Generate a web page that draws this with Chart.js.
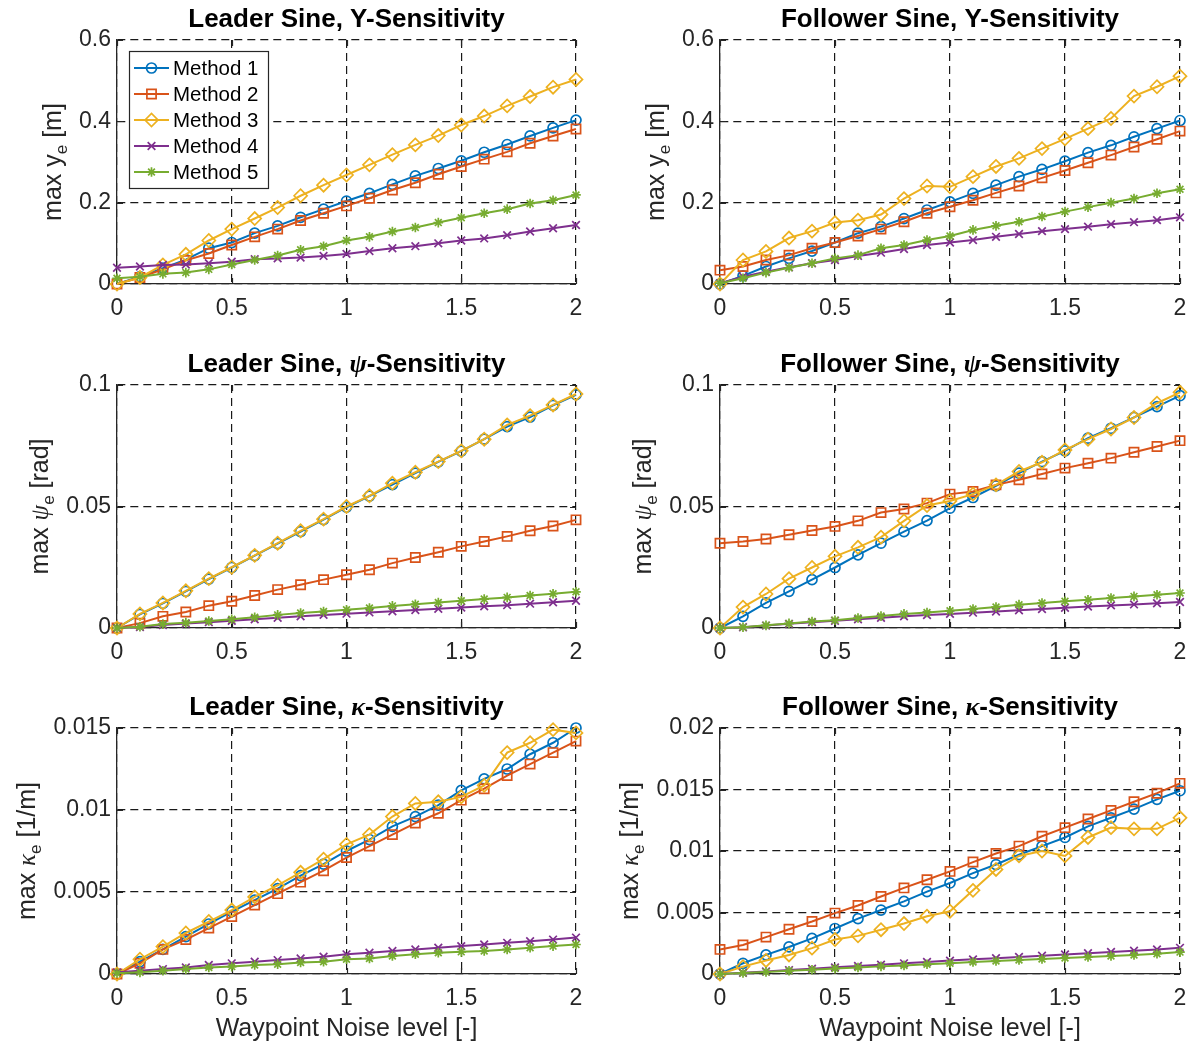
<!DOCTYPE html>
<html>
<head>
<meta charset="utf-8">
<script src="https://cdn.jsdelivr.net/npm/chart.js@4.4.1/dist/chart.umd.min.js"></script>
<style>
  html, body { margin: 0; padding: 0; background: #ffffff; }
  body { width: 1190px; height: 1043px; position: relative; overflow: hidden; }
  canvas { position: absolute; }
</style>
</head>
<body>
<canvas id="leaderY" width="600" height="340" style="left:0px;top:0px"></canvas>
<canvas id="followerY" width="600" height="340" style="left:600px;top:0px"></canvas>
<canvas id="leaderPsi" width="600" height="345" style="left:0px;top:340px"></canvas>
<canvas id="followerPsi" width="600" height="345" style="left:600px;top:340px"></canvas>
<canvas id="leaderKappa" width="600" height="358" style="left:0px;top:685px"></canvas>
<canvas id="followerKappa" width="600" height="358" style="left:600px;top:685px"></canvas>
<script>
// ---- data -------------------------------------------------------------
const noiseLevels = [0, 0.1, 0.2, 0.3, 0.4, 0.5, 0.6, 0.7, 0.8, 0.9, 1.0, 1.1, 1.2, 1.3, 1.4, 1.5, 1.6, 1.7, 1.8, 1.9, 2.0];
const methodNames = ['Method 1', 'Method 2', 'Method 3', 'Method 4', 'Method 5'];

const xTickValues = [0, 0.5, 1, 1.5, 2];
const xTickLabels = ['0', '0.5', '1', '1.5', '2'];
const yTickValuesY = [0, 0.2, 0.4, 0.6];
const yTickLabelsY = ['0', '0.2', '0.4', '0.6'];
const yTickValuesPsi = [0, 0.05, 0.1];
const yTickLabelsPsi = ['0', '0.05', '0.1'];
const yTickValuesKappaLeader = [0, 0.005, 0.01, 0.015];
const yTickLabelsKappaLeader = ['0', '0.005', '0.01', '0.015'];
const yTickValuesKappaFollower = [0, 0.005, 0.01, 0.015, 0.02];
const yTickLabelsKappaFollower = ['0', '0.005', '0.01', '0.015', '0.02'];

// max lateral error y_e [m]
const leaderY1 = [0, 0.018, 0.039, 0.060, 0.088, 0.102, 0.125, 0.143, 0.164, 0.184, 0.204, 0.223, 0.245, 0.266, 0.284, 0.303, 0.324, 0.343, 0.364, 0.384, 0.403];
const leaderY2 = [0, 0.016, 0.036, 0.058, 0.075, 0.096, 0.116, 0.135, 0.156, 0.174, 0.192, 0.211, 0.231, 0.249, 0.270, 0.289, 0.307, 0.325, 0.346, 0.364, 0.381];
const leaderY3 = [0, 0.016, 0.047, 0.073, 0.107, 0.135, 0.161, 0.188, 0.217, 0.243, 0.268, 0.293, 0.318, 0.342, 0.365, 0.391, 0.413, 0.438, 0.461, 0.484, 0.503];
const leaderY4 = [0.040, 0.043, 0.047, 0.048, 0.051, 0.055, 0.061, 0.063, 0.065, 0.069, 0.074, 0.081, 0.088, 0.093, 0.100, 0.107, 0.112, 0.120, 0.129, 0.137, 0.145];
const leaderY5 = [0.014, 0.018, 0.025, 0.028, 0.036, 0.048, 0.059, 0.070, 0.084, 0.093, 0.107, 0.116, 0.129, 0.139, 0.151, 0.163, 0.174, 0.184, 0.198, 0.206, 0.219];

const followerY1 = [0, 0.020, 0.043, 0.063, 0.081, 0.102, 0.125, 0.141, 0.161, 0.182, 0.202, 0.223, 0.243, 0.264, 0.282, 0.302, 0.323, 0.341, 0.362, 0.382, 0.402];
const followerY2 = [0.034, 0.043, 0.059, 0.071, 0.088, 0.102, 0.118, 0.135, 0.153, 0.174, 0.190, 0.206, 0.224, 0.241, 0.261, 0.279, 0.298, 0.317, 0.337, 0.356, 0.376];
const followerY3 = [0, 0.059, 0.080, 0.113, 0.130, 0.151, 0.157, 0.171, 0.210, 0.241, 0.239, 0.264, 0.289, 0.309, 0.333, 0.357, 0.382, 0.407, 0.462, 0.485, 0.511];
const followerY4 = [0.002, 0.018, 0.030, 0.041, 0.051, 0.059, 0.069, 0.077, 0.086, 0.096, 0.102, 0.108, 0.116, 0.123, 0.130, 0.135, 0.141, 0.147, 0.152, 0.157, 0.164];
const followerY5 = [0.002, 0.014, 0.028, 0.040, 0.051, 0.063, 0.071, 0.088, 0.096, 0.108, 0.118, 0.133, 0.143, 0.153, 0.166, 0.178, 0.189, 0.200, 0.210, 0.223, 0.233];

// max heading error psi_e [rad]
const leaderPsi1 = [0, 0.0056, 0.0101, 0.0151, 0.0201, 0.0249, 0.0298, 0.0347, 0.0397, 0.0446, 0.0497, 0.0543, 0.0590, 0.0637, 0.0684, 0.0728, 0.0777, 0.0829, 0.0868, 0.0916, 0.0960];
const leaderPsi2 = [0, 0.0020, 0.0048, 0.0066, 0.0092, 0.0110, 0.0134, 0.0158, 0.0178, 0.0199, 0.0219, 0.0240, 0.0267, 0.0290, 0.0312, 0.0336, 0.0356, 0.0377, 0.0400, 0.0420, 0.0445];
const leaderPsi3 = [0, 0.0058, 0.0103, 0.0153, 0.0203, 0.0250, 0.0299, 0.0349, 0.0400, 0.0448, 0.0500, 0.0544, 0.0596, 0.0641, 0.0685, 0.0729, 0.0777, 0.0836, 0.0874, 0.0918, 0.0963];
const leaderPsi4 = [0, 0.0004, 0.0012, 0.0018, 0.0024, 0.0030, 0.0036, 0.0042, 0.0048, 0.0054, 0.0059, 0.0064, 0.0069, 0.0074, 0.0079, 0.0084, 0.0089, 0.0094, 0.0100, 0.0106, 0.0112];
const leaderPsi5 = [0, 0.0005, 0.0016, 0.0022, 0.0029, 0.0036, 0.0044, 0.0054, 0.0062, 0.0068, 0.0075, 0.0082, 0.0091, 0.0098, 0.0105, 0.0112, 0.0119, 0.0126, 0.0134, 0.0141, 0.0149];

const followerPsi1 = [0, 0.0048, 0.0103, 0.0151, 0.0199, 0.0249, 0.0301, 0.0349, 0.0397, 0.0442, 0.0493, 0.0537, 0.0585, 0.0637, 0.0685, 0.0729, 0.0781, 0.0822, 0.0867, 0.0911, 0.0956];
const followerPsi2 = [0.0349, 0.0356, 0.0366, 0.0384, 0.0401, 0.0418, 0.0441, 0.0475, 0.0490, 0.0514, 0.0551, 0.0562, 0.0589, 0.0610, 0.0634, 0.0658, 0.0678, 0.0699, 0.0723, 0.0747, 0.0771];
const followerPsi3 = [0, 0.0086, 0.0140, 0.0203, 0.0249, 0.0295, 0.0332, 0.0374, 0.0441, 0.0504, 0.0523, 0.0551, 0.0589, 0.0644, 0.0682, 0.0733, 0.0777, 0.0819, 0.0866, 0.0925, 0.0970];
const followerPsi4 = [0, 0.0003, 0.0010, 0.0017, 0.0024, 0.0030, 0.0036, 0.0042, 0.0048, 0.0053, 0.0058, 0.0063, 0.0068, 0.0073, 0.0078, 0.0083, 0.0088, 0.0093, 0.0097, 0.0102, 0.0107];
const followerPsi5 = [0, 0.0003, 0.0011, 0.0019, 0.0027, 0.0032, 0.0041, 0.0049, 0.0058, 0.0064, 0.0071, 0.0078, 0.0086, 0.0096, 0.0103, 0.0110, 0.0116, 0.0123, 0.0130, 0.0137, 0.0144];

// max curvature error kappa_e [1/m]
const leaderKappa1 = [0, 0.00075, 0.0015, 0.00228, 0.00305, 0.0038, 0.0045, 0.0052, 0.0060, 0.0067, 0.0075, 0.0082, 0.0090, 0.0096, 0.0103, 0.0112, 0.0119, 0.0125, 0.0134, 0.0141, 0.0150];
const leaderKappa2 = [0, 0.00065, 0.0015, 0.0021, 0.0028, 0.0035, 0.0042, 0.0049, 0.0056, 0.0063, 0.0071, 0.0078, 0.0085, 0.0092, 0.0098, 0.0106, 0.0113, 0.0121, 0.0128, 0.0135, 0.0142];
const leaderKappa3 = [0, 0.0009, 0.00167, 0.0025, 0.0032, 0.0039, 0.0047, 0.0054, 0.0062, 0.0070, 0.0079, 0.0085, 0.0096, 0.0104, 0.0105, 0.0108, 0.0115, 0.0135, 0.0141, 0.0149, 0.0147];
const leaderKappa4 = [0.0001, 0.0002, 0.0003, 0.0004, 0.00055, 0.00065, 0.00075, 0.00085, 0.00095, 0.00105, 0.0012, 0.0013, 0.0014, 0.0015, 0.0016, 0.0017, 0.0018, 0.0019, 0.0020, 0.0021, 0.00222];
const leaderKappa5 = [0.00005, 0.0001, 0.0002, 0.0003, 0.0004, 0.00045, 0.00055, 0.0006, 0.0007, 0.00075, 0.0009, 0.00095, 0.0011, 0.0012, 0.0013, 0.00135, 0.0014, 0.0015, 0.0016, 0.0017, 0.0018];

const followerKappa1 = [0, 0.00087, 0.00155, 0.0022, 0.0029, 0.0037, 0.0045, 0.0052, 0.0059, 0.0067, 0.0074, 0.0082, 0.0089, 0.0097, 0.0104, 0.0111, 0.0120, 0.0127, 0.0134, 0.0142, 0.0149];
const followerKappa2 = [0.0020, 0.00236, 0.0030, 0.00364, 0.00427, 0.00495, 0.00557, 0.0063, 0.0070, 0.00766, 0.00834, 0.0091, 0.0098, 0.0104, 0.0112, 0.0119, 0.0126, 0.0133, 0.0140, 0.0147, 0.0155];
const followerKappa3 = [0, 0.0006, 0.0011, 0.00155, 0.0021, 0.0028, 0.0031, 0.0036, 0.0041, 0.0047, 0.0051, 0.0068, 0.0085, 0.0096, 0.0100, 0.0096, 0.0111, 0.0119, 0.0118, 0.0118, 0.0127];
const followerKappa4 = [0, 0.0001, 0.0002, 0.00032, 0.00043, 0.00054, 0.00065, 0.00076, 0.00087, 0.00098, 0.00109, 0.00119, 0.00129, 0.00139, 0.00149, 0.00159, 0.00169, 0.00179, 0.00189, 0.0020, 0.00213];
const followerKappa5 = [0, 0.00008, 0.00017, 0.00026, 0.00035, 0.00044, 0.00053, 0.00062, 0.0007, 0.00079, 0.00088, 0.00097, 0.00106, 0.00114, 0.00122, 0.0013, 0.00138, 0.00146, 0.00155, 0.00165, 0.00178];

// ---- styling ----------------------------------------------------------
const methodColors = ['#0072BD', '#D95319', '#EDB120', '#7E2F8E', '#77AC30'];
const markerStyles = ['circle', 'rect', 'rectRot', 'crossRot', 'star'];
const markerRadii = [5, 6.5, 6.5, 5.4, 4.8];

const SANS = '"Liberation Sans", Arial, Helvetica, sans-serif';
const SERIF = '"Liberation Serif", "DejaVu Serif", serif';
const INK = '#262626';
const TICK_FONT_SIZE = 23;
const TICK_LEN = 6;
const LINE_W = 2;
const MARKER_W = 1.7;

const sans = (text, weight, size) => ({ text, font: `${weight || 'normal'} ${size || 25}px ${SANS}` });
const greek = (text, bold, size) => ({ text, font: `${bold ? 'bold ' : ''}italic ${size || 25}px ${SERIF}` });
const sub = (text) => ({ text, font: `17px ${SANS}`, dy: 6 });

function drawRich(ctx, segs, x, y, angle, color) {
  ctx.save();
  ctx.translate(x, y);
  ctx.rotate(angle);
  ctx.textAlign = 'left';
  ctx.textBaseline = 'alphabetic';
  ctx.fillStyle = color;
  const widths = segs.map(s => { ctx.font = s.font; return ctx.measureText(s.text).width; });
  let cx = -widths.reduce((a, b) => a + b, 0) / 2;
  segs.forEach((s, i) => {
    ctx.font = s.font;
    ctx.fillText(s.text, cx, s.dy || 0);
    cx += widths[i];
  });
  ctx.restore();
}

function drawMarker(ctx, style, r, x, y) {
  if (Chart.helpers && Chart.helpers.drawPoint) {
    Chart.helpers.drawPoint(ctx, { pointStyle: style, radius: r, rotation: 0, borderWidth: MARKER_W }, x, y);
  }
}

// Titles, axis labels, inner tick marks and the legend box
const panelDecor = {
  id: 'panelDecor',
  beforeDatasetsDraw(chart) {
    const { ctx, chartArea: a, scales: { x, y } } = chart;
    ctx.save();
    ctx.strokeStyle = INK;
    ctx.lineWidth = 1.2;
    ctx.beginPath();
    x.ticks.forEach(t => {
      const px = Math.round(x.getPixelForValue(t.value)) + 0.5;
      ctx.moveTo(px, a.bottom); ctx.lineTo(px, a.bottom - TICK_LEN);
      ctx.moveTo(px, a.top); ctx.lineTo(px, a.top + TICK_LEN);
    });
    y.ticks.forEach(t => {
      const py = Math.round(y.getPixelForValue(t.value)) + 0.5;
      ctx.moveTo(a.left, py); ctx.lineTo(a.left + TICK_LEN, py);
      ctx.moveTo(a.right, py); ctx.lineTo(a.right - TICK_LEN, py);
    });
    ctx.stroke();
    ctx.restore();
  },
  afterDraw(chart, args, opts) {
    const { ctx, chartArea: a, scales: { y } } = chart;
    const midX = (a.left + a.right) / 2;
    drawRich(ctx, opts.title, midX, a.top - 13, 0, '#000000');

    // y label sits left of the widest tick label
    ctx.save();
    ctx.font = `${TICK_FONT_SIZE}px ${SANS}`;
    const widest = Math.max(...y.ticks.map(t => ctx.measureText(t.label).width));
    ctx.restore();
    const labelX = a.left - 6 - widest - 18;
    drawRich(ctx, opts.yLabel, labelX, (a.top + a.bottom) / 2, -Math.PI / 2, INK);

    if (opts.xLabel) {
      drawRich(ctx, opts.xLabel, midX, a.bottom + 62, 0, INK);
    }

    if (opts.legend) {
      const bx = a.left + 12, by = a.top + 11, bw = 139, bh = 137;
      ctx.save();
      ctx.fillStyle = '#ffffff';
      ctx.fillRect(bx, by, bw, bh);
      ctx.strokeStyle = INK;
      ctx.lineWidth = 1.2;
      ctx.strokeRect(bx + 0.5, by + 0.5, bw, bh);
      chart.data.datasets.forEach((ds, i) => {
        const ry = by + 17 + i * 26;
        ctx.strokeStyle = ds.borderColor;
        ctx.lineWidth = LINE_W;
        ctx.beginPath();
        ctx.moveTo(bx + 5, ry);
        ctx.lineTo(bx + 40, ry);
        ctx.stroke();
        ctx.fillStyle = 'rgba(0,0,0,0)';
        ctx.lineWidth = MARKER_W;
        drawMarker(ctx, ds.pointStyle, ds.pointRadius, bx + 22.5, ry);
        ctx.fillStyle = '#000000';
        ctx.font = `20.5px ${SANS}`;
        ctx.textAlign = 'left';
        ctx.textBaseline = 'middle';
        ctx.fillText(ds.label, bx + 44, ry + 1);
      });
      ctx.restore();
    }
  }
};

function buildPanel(id, cfg) {
  const datasets = cfg.series.map((values, i) => ({
    label: methodNames[i],
    data: noiseLevels.map((x, j) => ({ x, y: values[j] })),
    borderColor: methodColors[i],
    backgroundColor: 'rgba(0,0,0,0)',
    borderWidth: LINE_W,
    tension: 0,
    pointStyle: markerStyles[i],
    pointRadius: markerRadii[i],
    pointBorderWidth: MARKER_W,
    pointBorderColor: methodColors[i],
    pointBackgroundColor: 'rgba(0,0,0,0)',
    clip: false,
    order: cfg.series.length - i
  }));

  const gridStyle = { color: 'rgba(0,0,0,0.9)', lineWidth: 1.2, drawTicks: false };
  const borderStyle = { display: true, color: INK, width: 1.3, dash: [8, 5] };
  const tickFont = { family: SANS, size: TICK_FONT_SIZE };

  return new Chart(document.getElementById(id), {
    type: 'line',
    data: { datasets },
    options: {
      responsive: false,
      animation: false,
      devicePixelRatio: 1,
      events: [],
      layout: { padding: cfg.padding },
      plugins: {
        legend: { display: false },
        tooltip: { enabled: false },
        title: { display: false },
        panelDecor: { title: cfg.title, yLabel: cfg.yLabel, xLabel: cfg.xLabel, legend: cfg.legend }
      },
      scales: {
        x: {
          type: 'linear',
          min: xTickValues[0],
          max: xTickValues[xTickValues.length - 1],
          afterBuildTicks: s => { s.ticks = xTickValues.map(v => ({ value: v })); },
          afterFit: s => { s.height = 42; },
          ticks: { callback: (v, i) => xTickLabels[i], font: tickFont, color: INK, padding: 11, maxRotation: 0, autoSkip: false },
          grid: gridStyle,
          border: borderStyle
        },
        y: {
          type: 'linear',
          min: cfg.yTicks[0],
          max: cfg.yTicks[cfg.yTicks.length - 1],
          afterBuildTicks: s => { s.ticks = cfg.yTicks.map(v => ({ value: v })); },
          afterFit: s => { s.width = cfg.yAxisWidth; },
          ticks: { callback: (v, i) => cfg.yLabels[i], font: tickFont, color: INK, padding: 6, autoSkip: false },
          grid: gridStyle,
          border: borderStyle
        }
      }
    },
    plugins: [panelDecor]
  });
}

const leftPad = { left: 0, right: 24 };
const rightPad = { left: 0, right: 20 };
const xLabelText = [sans('Waypoint Noise level [-]')];
const titleSize = 26;

buildPanel('leaderY', {
  series: [leaderY1, leaderY2, leaderY3, leaderY4, leaderY5],
  yTicks: yTickValuesY, yLabels: yTickLabelsY, yAxisWidth: 117,
  padding: Object.assign({ top: 40, bottom: 14 }, leftPad),
  title: [sans('Leader Sine, Y-Sensitivity', 'bold', titleSize)],
  yLabel: [sans('max y'), sub('e'), sans(' [m]')],
  legend: true
});
buildPanel('followerY', {
  series: [followerY1, followerY2, followerY3, followerY4, followerY5],
  yTicks: yTickValuesY, yLabels: yTickLabelsY, yAxisWidth: 120,
  padding: Object.assign({ top: 40, bottom: 14 }, rightPad),
  title: [sans('Follower Sine, Y-Sensitivity', 'bold', titleSize)],
  yLabel: [sans('max y'), sub('e'), sans(' [m]')]
});
buildPanel('leaderPsi', {
  series: [leaderPsi1, leaderPsi2, leaderPsi3, leaderPsi4, leaderPsi5],
  yTicks: yTickValuesPsi, yLabels: yTickLabelsPsi, yAxisWidth: 117,
  padding: Object.assign({ top: 45, bottom: 15 }, leftPad),
  title: [sans('Leader Sine, ', 'bold', titleSize), greek('ψ', true, titleSize), sans('-Sensitivity', 'bold', titleSize)],
  yLabel: [sans('max '), greek('ψ'), sub('e'), sans(' [rad]')]
});
buildPanel('followerPsi', {
  series: [followerPsi1, followerPsi2, followerPsi3, followerPsi4, followerPsi5],
  yTicks: yTickValuesPsi, yLabels: yTickLabelsPsi, yAxisWidth: 120,
  padding: Object.assign({ top: 45, bottom: 15 }, rightPad),
  title: [sans('Follower Sine, ', 'bold', titleSize), greek('ψ', true, titleSize), sans('-Sensitivity', 'bold', titleSize)],
  yLabel: [sans('max '), greek('ψ'), sub('e'), sans(' [rad]')]
});
buildPanel('leaderKappa', {
  series: [leaderKappa1, leaderKappa2, leaderKappa3, leaderKappa4, leaderKappa5],
  yTicks: yTickValuesKappaLeader, yLabels: yTickLabelsKappaLeader, yAxisWidth: 117,
  padding: Object.assign({ top: 43, bottom: 27 }, leftPad),
  title: [sans('Leader Sine, ', 'bold', titleSize), greek('κ', true, titleSize), sans('-Sensitivity', 'bold', titleSize)],
  yLabel: [sans('max '), greek('κ'), sub('e'), sans(' [1/m]')],
  xLabel: xLabelText
});
buildPanel('followerKappa', {
  series: [followerKappa1, followerKappa2, followerKappa3, followerKappa4, followerKappa5],
  yTicks: yTickValuesKappaFollower, yLabels: yTickLabelsKappaFollower, yAxisWidth: 120,
  padding: Object.assign({ top: 43, bottom: 27 }, rightPad),
  title: [sans('Follower Sine, ', 'bold', titleSize), greek('κ', true, titleSize), sans('-Sensitivity', 'bold', titleSize)],
  yLabel: [sans('max '), greek('κ'), sub('e'), sans(' [1/m]')],
  xLabel: xLabelText
});
</script>
</body>
</html>
